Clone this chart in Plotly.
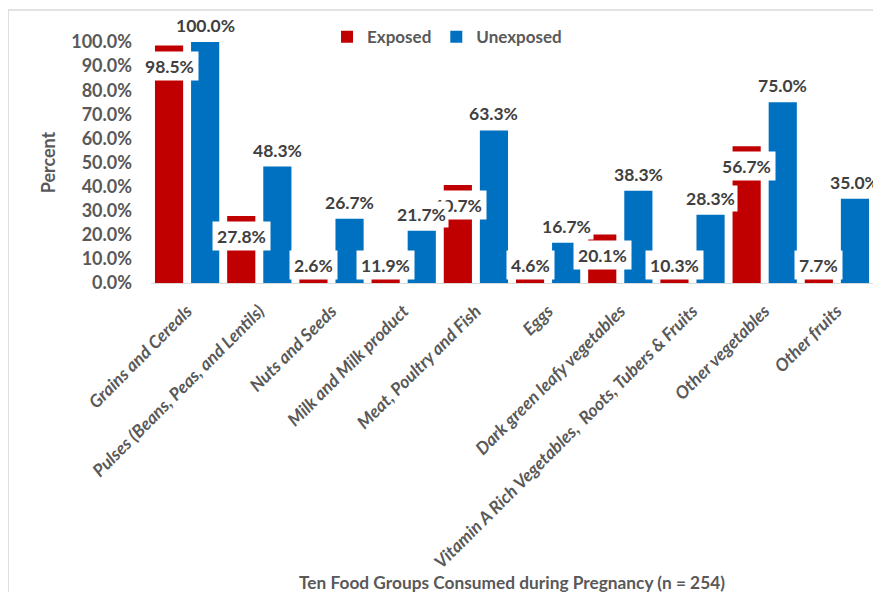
import plotly.graph_objects as go

categories = [
    "Grains and Cereals",
    "Pulses (Beans, Peas, and Lentils)",
    "Nuts and Seeds",
    "Milk and Milk product",
    "Meat, Poultry and Fish",
    "Eggs",
    "Dark green leafy vegetables",
    "Vitamin A Rich Vegetables,  Roots, Tubers & Fruits",
    "Other vegetables",
    "Other fruits",
]
exposed = [98.5, 27.8, 2.6, 11.9, 40.7, 4.6, 20.1, 10.3, 56.7, 7.7]
unexposed = [100.0, 48.3, 26.7, 21.7, 63.3, 16.7, 38.3, 28.3, 75.0, 35.0]

RED = "#C00000"
BLUE = "#0070C0"
GRAY = "#595959"
DARK = "#404040"
FONT = "Lato"

exp_f = [v / 100 for v in exposed]
unexp_f = [v / 100 for v in unexposed]

fig = go.Figure()
fig.add_trace(go.Bar(name="Exposed", x=categories, y=exp_f, marker_color=RED,
                     marker_line_width=0))
fig.add_trace(go.Bar(name="Unexposed", x=categories, y=unexp_f, marker_color=BLUE,
                     marker_line_width=0))

annotations = []
for i, v in enumerate(exp_f):
    small = v < 0.149
    annotations.append(dict(
        x=i - 0.25, y=0 if small else v, xref="x", yref="y",
        text=f"{exposed[i]:.1f}%", showarrow=False,
        yanchor="bottom" if small else "top",
        yshift=3 if small else -5,
        bgcolor="white", borderpad=4, height=20,
        font=dict(family=FONT, size=17.5, color=DARK, weight="bold"),
    ))
for i, v in enumerate(unexp_f):
    annotations.append(dict(
        x=i + 0.25, y=v, xref="x", yref="y",
        text=f"{unexposed[i]:.1f}%", showarrow=False,
        yanchor="bottom", yshift=3,
        bgcolor="white", borderpad=2,
        font=dict(family=FONT, size=17.5, color=DARK, weight="bold"),
    ))

fig.update_layout(
    width=881, height=592,
    margin=dict(l=143, r=16, t=34, b=317, autoexpand=False),
    paper_bgcolor="white", plot_bgcolor="white",
    barmode="group", bargap=0.0, bargroupgap=0.22,
    font=dict(family=FONT, color=GRAY),
    legend=dict(orientation="h", x=0.41, xanchor="center", y=1.02, yanchor="middle",
                font=dict(family=FONT, size=17, color=GRAY, weight="bold"),
                bgcolor="rgba(0,0,0,0)"),
    annotations=annotations,
    shapes=[dict(type="rect", xref="paper", yref="paper",
                 x0=-0.198, x1=1.1, y0=-1.5, y1=1.133,
                 line=dict(color="#D9D9D9", width=1.5), layer="below")],
)
fig.update_xaxes(
    range=[-0.5, len(categories) - 0.5], autorange=False,
    tickangle=-45, showline=True, linecolor="#D9D9D9", linewidth=1,
    ticks="", showgrid=False, ticklabelstandoff=10,
    tickfont=dict(family=FONT, size=17.5, color=GRAY, weight="bold", style="italic"),
    title=dict(text="Ten Food Groups Consumed during Pregnancy (n = 254)",
               font=dict(family=FONT, size=17.3, color=GRAY, weight="bold"), standoff=2),
    automargin=False,
)
fig.update_yaxes(
    range=[0, 1], autorange=False, dtick=0.1, tickformat=".1%", showgrid=False,
    showline=False, zeroline=False, ticks="", ticklabelstandoff=18,
    tickfont=dict(family=FONT, size=18, color=GRAY, weight="bold"),
    title=dict(text="Percent", font=dict(family=FONT, size=18, color=GRAY, weight="bold"),
               standoff=10),
    automargin=False,
)

fig.write_html("out.html")
